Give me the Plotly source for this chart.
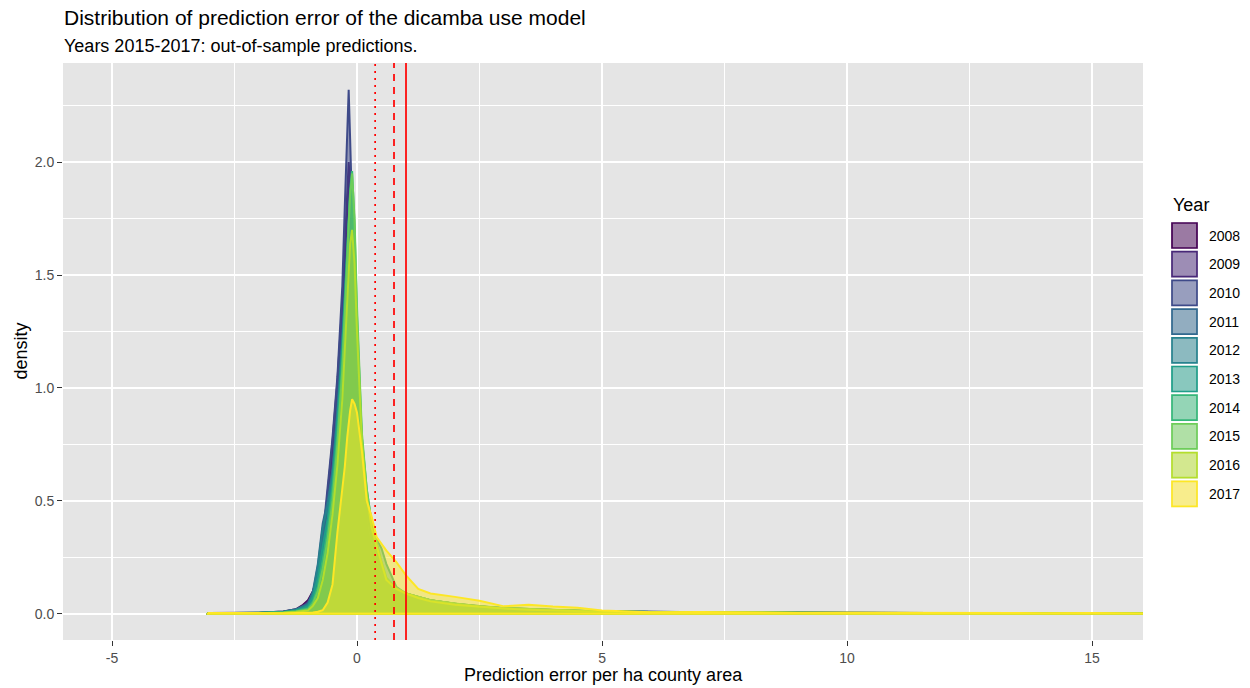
import plotly.graph_objects as go

# Evaluation grid for the kernel density curves (prediction error, per ha county area)
x_grid = [-3.05, -2.5, -2.0, -1.5, -1.25, -1.1, -1.0, -0.9, -0.8, -0.7, -0.6, -0.5, -0.4,
          -0.3, -0.25, -0.2, -0.17, -0.14, -0.1, -0.05, 0.0,
          0.1, 0.2, 0.3, 0.4, 0.5, 0.6, 0.8, 1.0, 1.25, 1.5,
          2.0, 2.5, 3.0, 3.5, 4.0, 4.5, 5.0, 6.0, 7.0, 8.0, 9.0, 10.0, 11.0, 12.0, 13.0, 14.0, 15.0, 16.5]

years = [2008, 2009, 2010, 2011, 2012, 2013, 2014, 2015, 2016, 2017]

dens_2008 = [0.004, 0.004, 0.005, 0.010, 0.020, 0.040, 0.060, 0.10, 0.17, 0.30, 0.50, 0.74, 1.00,
             1.32, 1.55, 1.80, 1.93, 1.85, 1.60, 1.25, 0.95,
             0.58, 0.38, 0.27, 0.21, 0.16, 0.13, 0.10, 0.08, 0.065, 0.055,
             0.040, 0.030, 0.022, 0.018, 0.015, 0.012, 0.010, 0.007, 0.006, 0.005, 0.004, 0.004, 0.003, 0.003, 0.002, 0.002, 0.002, 0.002]
dens_2009 = [0.003, 0.003, 0.004, 0.009, 0.018, 0.035, 0.055, 0.095, 0.17, 0.31, 0.52, 0.76, 1.03,
             1.38, 1.62, 1.87, 2.00, 1.90, 1.62, 1.25, 0.95,
             0.58, 0.38, 0.27, 0.21, 0.16, 0.13, 0.10, 0.08, 0.065, 0.055,
             0.042, 0.030, 0.024, 0.018, 0.015, 0.012, 0.011, 0.007, 0.006, 0.005, 0.005, 0.004, 0.004, 0.003, 0.003, 0.002, 0.002, 0.002]
dens_2010 = [0.003, 0.003, 0.004, 0.008, 0.015, 0.030, 0.050, 0.09, 0.18, 0.34, 0.57, 0.78, 1.05,
             1.45, 1.80, 2.15, 2.32, 2.10, 1.80, 1.35, 1.00,
             0.60, 0.38, 0.26, 0.20, 0.16, 0.13, 0.10, 0.08, 0.065, 0.055,
             0.040, 0.028, 0.022, 0.018, 0.014, 0.012, 0.010, 0.007, 0.006, 0.005, 0.004, 0.004, 0.003, 0.003, 0.002, 0.002, 0.002, 0.002]
dens_2011 = [0.003, 0.003, 0.005, 0.010, 0.020, 0.035, 0.045, 0.10, 0.22, 0.40, 0.50, 0.64, 0.92,
             1.25, 1.45, 1.65, 1.77, 1.85, 1.72, 1.40, 1.08,
             0.68, 0.46, 0.33, 0.25, 0.19, 0.14, 0.10, 0.085, 0.07, 0.06,
             0.045, 0.032, 0.025, 0.020, 0.016, 0.013, 0.010, 0.008, 0.006, 0.005, 0.005, 0.004, 0.004, 0.003, 0.003, 0.002, 0.002, 0.002]
dens_2012 = [0.003, 0.003, 0.004, 0.009, 0.018, 0.030, 0.040, 0.09, 0.21, 0.38, 0.48, 0.62, 0.88,
             1.20, 1.40, 1.60, 1.72, 1.80, 1.74, 1.45, 1.12,
             0.70, 0.48, 0.35, 0.27, 0.20, 0.15, 0.11, 0.09, 0.075, 0.06,
             0.045, 0.034, 0.025, 0.020, 0.016, 0.012, 0.010, 0.008, 0.006, 0.005, 0.004, 0.004, 0.004, 0.003, 0.003, 0.002, 0.002, 0.002]
dens_2013 = [0.003, 0.003, 0.004, 0.008, 0.015, 0.025, 0.035, 0.075, 0.16, 0.30, 0.42, 0.58, 0.85,
             1.18, 1.40, 1.62, 1.76, 1.86, 1.90, 1.60, 1.22,
             0.76, 0.52, 0.40, 0.33, 0.29, 0.22, 0.12, 0.09, 0.075, 0.06,
             0.045, 0.032, 0.026, 0.020, 0.017, 0.014, 0.011, 0.008, 0.006, 0.005, 0.005, 0.004, 0.004, 0.003, 0.003, 0.003, 0.002, 0.002]
dens_2014 = [0.002, 0.003, 0.003, 0.007, 0.012, 0.020, 0.025, 0.055, 0.12, 0.24, 0.37, 0.55, 0.80,
             1.12, 1.35, 1.60, 1.76, 1.88, 1.96, 1.72, 1.32,
             0.78, 0.55, 0.40, 0.31, 0.22, 0.15, 0.11, 0.09, 0.075, 0.06,
             0.045, 0.030, 0.024, 0.019, 0.016, 0.013, 0.010, 0.008, 0.006, 0.005, 0.004, 0.004, 0.003, 0.003, 0.003, 0.002, 0.002, 0.002]
dens_2015 = [0.002, 0.002, 0.003, 0.006, 0.010, 0.016, 0.020, 0.045, 0.10, 0.20, 0.33, 0.50, 0.75,
             1.08, 1.30, 1.56, 1.72, 1.85, 1.95, 1.75, 1.36,
             0.80, 0.55, 0.40, 0.32, 0.23, 0.16, 0.115, 0.09, 0.075, 0.06,
             0.046, 0.033, 0.025, 0.021, 0.017, 0.013, 0.010, 0.008, 0.006, 0.005, 0.005, 0.004, 0.004, 0.003, 0.003, 0.003, 0.002, 0.002]
dens_2016 = [0.002, 0.002, 0.003, 0.005, 0.008, 0.012, 0.015, 0.035, 0.07, 0.15, 0.27, 0.44, 0.66,
             0.95, 1.15, 1.38, 1.52, 1.64, 1.70, 1.55, 1.25,
             0.76, 0.52, 0.38, 0.30, 0.22, 0.15, 0.11, 0.09, 0.07, 0.055,
             0.040, 0.030, 0.023, 0.018, 0.015, 0.012, 0.009, 0.007, 0.006, 0.005, 0.004, 0.004, 0.003, 0.003, 0.003, 0.002, 0.002, 0.002]
dens_2017 = [0.004, 0.003, 0.003, 0.003, 0.004, 0.004, 0.005, 0.006, 0.009, 0.016, 0.05, 0.13, 0.36,
             0.55, 0.65, 0.78, 0.85, 0.90, 0.95, 0.93, 0.89,
             0.72, 0.50, 0.43, 0.34, 0.31, 0.28, 0.23, 0.17, 0.11, 0.09,
             0.075, 0.058, 0.033, 0.040, 0.032, 0.027, 0.015, 0.007, 0.008, 0.005, 0.004, 0.005, 0.004, 0.003, 0.003, 0.003, 0.004, 0.003]

densities = [dens_2008, dens_2009, dens_2010, dens_2011, dens_2012,
             dens_2013, dens_2014, dens_2015, dens_2016, dens_2017]

# Reference error levels marked with vertical red lines
ref_x = [0.37, 0.755, 1.0]
ref_dash = ["2px,5px", "7px,6px", "solid"]

x_ticks = [-5, 0, 5, 10, 15]
y_ticks = [0.0, 0.5, 1.0, 1.5, 2.0]

viridis10 = ["#440154", "#482878", "#3E4A89", "#31688E", "#26828E",
             "#1F9E89", "#35B779", "#6DCD59", "#B4DE2C", "#FDE725"]


def rgba(hex_col, a):
    h = hex_col.lstrip("#")
    r, g, b = int(h[0:2], 16), int(h[2:4], 16), int(h[4:6], 16)
    return f"rgba({r},{g},{b},{a})"


FONT = "Liberation Sans, Arial, Helvetica, sans-serif"
W, H = 1250, 688
M_L, M_R, M_T, M_B = 63, 107, 63, 48
PW, PH = W - M_L - M_R, H - M_T - M_B


def px_x(px):
    return (px - M_L) / PW


def px_y(py):
    return (H - M_B - py) / PH


fig = go.Figure()

# Each density is drawn as a closed polygon (curve + baseline) so the outline runs along y = 0 too
for yr, col, dens in zip(years, viridis10, densities):
    poly_x = list(x_grid) + [x_grid[-1], x_grid[0], x_grid[0]]
    poly_y = list(dens) + [0.0, 0.0, dens[0]]
    fig.add_trace(go.Scatter(
        x=poly_x, y=poly_y, mode="lines", name=str(yr),
        line=dict(color=col, width=2.0),
        fill="toself", fillcolor=rgba(col, 0.5),
        showlegend=False, hoverinfo="x+y+name",
    ))

shapes = []
for xv, dash in zip(ref_x, ref_dash):
    shapes.append(dict(type="line", xref="x", yref="paper", x0=xv, x1=xv, y0=0, y1=1,
                       line=dict(color="#FF0000", width=1.7, dash=dash), layer="above"))

annotations = [
    dict(text="Distribution of prediction error of the dicamba use model", xref="paper", yref="paper",
         x=px_x(62), y=px_y(17), xanchor="left", yanchor="middle", showarrow=False,
         font=dict(family=FONT, size=21, color="#000000")),
    dict(text="Years 2015-2017: out-of-sample predictions.", xref="paper", yref="paper",
         x=px_x(62), y=px_y(46), xanchor="left", yanchor="middle", showarrow=False,
         font=dict(family=FONT, size=18, color="#000000")),
    dict(text="Prediction error per ha county area", xref="paper", yref="paper",
         x=0.5, y=px_y(675), xanchor="center", yanchor="middle", showarrow=False,
         font=dict(family=FONT, size=18, color="#000000")),
    dict(text="density", xref="paper", yref="paper", textangle=-90,
         x=px_x(20), y=0.5, xanchor="center", yanchor="middle", showarrow=False,
         font=dict(family=FONT, size=18, color="#000000")),
    dict(text="Year", xref="paper", yref="paper", x=px_x(1171), y=px_y(205),
         xanchor="left", yanchor="middle", showarrow=False,
         font=dict(family=FONT, size=18, color="#000000")),
]

# Legend keys for the fill colours
key_top, key_pitch, key_size = 222, 28.7, 27
for i, (yr, col) in enumerate(zip(years, viridis10)):
    y0 = key_top + i * key_pitch
    shapes.append(dict(type="rect", xref="paper", yref="paper",
                       x0=px_x(1171), x1=px_x(1171 + key_size), y0=px_y(y0), y1=px_y(y0 + key_size),
                       fillcolor="#F2F2F2", line=dict(width=0), layer="above"))
    shapes.append(dict(type="rect", xref="paper", yref="paper",
                       x0=px_x(1172), x1=px_x(1170 + key_size), y0=px_y(y0 + 1), y1=px_y(y0 + key_size - 1),
                       fillcolor=rgba(col, 0.5), line=dict(color=col, width=1.7), layer="above"))
    annotations.append(dict(text=str(yr), xref="paper", yref="paper",
                            x=px_x(1207), y=px_y(y0 + key_size / 2),
                            xanchor="left", yanchor="middle", showarrow=False,
                            font=dict(family=FONT, size=14, color="#000000")))

fig.update_layout(
    width=W, height=H,
    margin=dict(l=M_L, r=M_R, t=M_T, b=M_B, autoexpand=False),
    paper_bgcolor="#FFFFFF", plot_bgcolor="#E5E5E5",
    font=dict(family=FONT, color="#000000"),
    shapes=shapes, annotations=annotations,
    showlegend=False,
    xaxis=dict(
        range=[-6.0, 16.04], tickvals=x_ticks, ticktext=[str(v) for v in x_ticks],
        showgrid=True, gridcolor="#FFFFFF", gridwidth=1.6,
        minor=dict(dtick=2.5, showgrid=True, gridcolor="#FFFFFF", gridwidth=0.8, ticks=""),
        zeroline=False, showline=False, automargin=False,
        ticks="outside", ticklen=5, tickwidth=1.1, tickcolor="#333333",
        tickfont=dict(family=FONT, size=14, color="#4D4D4D"),
    ),
    yaxis=dict(
        range=[-0.116, 2.439], tickvals=y_ticks, ticktext=[f"{v:.1f}" for v in y_ticks],
        showgrid=True, gridcolor="#FFFFFF", gridwidth=1.6,
        minor=dict(dtick=0.25, showgrid=True, gridcolor="#FFFFFF", gridwidth=0.8, ticks=""),
        zeroline=False, showline=False, automargin=False,
        ticks="outside", ticklen=5, tickwidth=1.1, tickcolor="#333333",
        tickfont=dict(family=FONT, size=14, color="#4D4D4D"),
    ),
)

fig.write_html("out.html")
